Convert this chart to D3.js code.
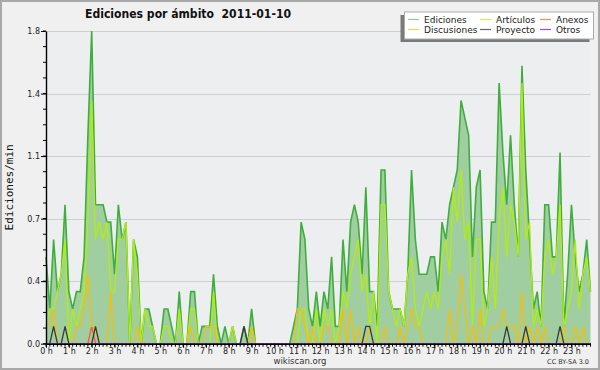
<!DOCTYPE html>
<html>
<head>
<meta charset="utf-8">
<script src="https://cdn.jsdelivr.net/npm/d3@7"></script>
<style>
  body { margin: 0; background: #fff; }
  svg { display: block; }
</style>
</head>
<body>
<svg id="grafico" width="600" height="370"></svg>
<script>
const titulo = "Ediciones por ámbito  2011-01-10";
const horas = ["0 h", "1 h", "2 h", "3 h", "4 h", "5 h", "6 h", "7 h", "8 h", "9 h", "10 h", "11 h",
  "12 h", "13 h", "14 h", "15 h", "16 h", "17 h", "18 h", "19 h", "20 h", "21 h", "22 h", "23 h"];
const ticksY = [0, 0.36, 0.72, 1.08, 1.44, 1.8];

// ediciones/min por tramo de 10 minutos (144 tramos), una fila = 2 horas
const ediciones = [
  0.5, 0.2, 0.6, 0.3, 0.4, 0.8, 0.3, 0.2, 0.3, 0.3, 0.5, 1.2,
  1.8, 0.8, 0.8, 0.8, 0.7, 0.7, 0.4, 0.8, 0.6, 0.7, 0, 0.6,
  0.5, 0, 0.2, 0.2, 0.1, 0, 0, 0.2, 0.2, 0.1, 0, 0.3,
  0, 0, 0.3, 0.3, 0, 0.1, 0.1, 0.1, 0.4, 0.1, 0, 0.1,
  0, 0.1, 0, 0, 0.1, 0, 0.2, 0, 0, 0, 0, 0,
  0, 0, 0, 0, 0, 0.1, 0.2, 0.7, 0.6, 0.2, 0.1, 0.3,
  0.1, 0.3, 0.2, 0.5, 0.1, 0.1, 0.6, 0.3, 0.7, 0.8, 0.7, 0.4,
  0.9, 0.3, 0.3, 0.1, 1.0, 1.0, 0.3, 0.2, 0.2, 0.2, 0.1, 0.4,
  1.0, 0.6, 0.4, 0.4, 0.4, 0.5, 0.5, 0.3, 0.7, 0.6, 0.8, 0.9,
  1.0, 1.4, 1.3, 1.2, 0.5, 0.9, 1.0, 0.3, 0.2, 0.7, 0.7, 1.5,
  1.1, 0.8, 1.2, 0.8, 0.5, 1.6, 1.0, 0.6, 0.2, 0.3, 0.1, 0.8,
  0.8, 0.5, 0.5, 1.1, 0.1, 0.4, 0.8, 0.5, 0.3, 0.4, 0.6, 0.3
];
const articulos = [
  0.1, 0.2, 0.2, 0.3, 0.4, 0.6, 0, 0.2, 0.1, 0.2, 0.3, 0.7,
  1.4, 0.6, 0.7, 0.6, 0.7, 0.3, 0.3, 0.6, 0.6, 0.7, 0, 0.6,
  0.4, 0, 0.2, 0.1, 0.1, 0, 0, 0.1, 0.1, 0, 0, 0.2,
  0, 0, 0.2, 0.2, 0, 0, 0, 0, 0.3, 0, 0, 0,
  0, 0.1, 0, 0, 0, 0, 0.1, 0, 0, 0, 0, 0,
  0, 0, 0, 0, 0, 0, 0, 0.2, 0.2, 0, 0, 0.2,
  0, 0.2, 0.1, 0.2, 0, 0.1, 0.3, 0.2, 0.4, 0.5, 0.6, 0.3,
  0.4, 0.1, 0.3, 0, 0.8, 0.8, 0.3, 0.2, 0.1, 0.2, 0.1, 0.4,
  0.5, 0.2, 0.1, 0.2, 0.3, 0.2, 0.3, 0.2, 0.5, 0.6, 0.4, 0.9,
  0.7, 1.0, 0.6, 0.7, 0.1, 0.6, 0.6, 0.1, 0.2, 0.5, 0.2, 0.7,
  0.9, 0.5, 0.8, 0.7, 0.5, 1.5, 0.6, 0.7, 0.1, 0.2, 0.1, 0.5,
  0.6, 0.4, 0.5, 0.8, 0.1, 0.2, 0.3, 0.6, 0.2, 0.4, 0.5, 0.3
];
const discusiones = [
  0.1, 0.1, 0.2, 0, 0, 0, 0, 0, 0.1, 0.1, 0.2, 0.4,
  0.1, 0.1, 0, 0, 0, 0.3, 0, 0, 0, 0, 0, 0,
  0.1, 0, 0, 0, 0, 0, 0, 0, 0, 0, 0, 0,
  0, 0, 0.1, 0, 0, 0, 0.1, 0.1, 0.1, 0, 0, 0,
  0, 0, 0, 0, 0, 0, 0.1, 0, 0, 0, 0, 0,
  0, 0, 0, 0, 0, 0, 0.2, 0.2, 0.1, 0, 0.1, 0,
  0, 0.1, 0.1, 0, 0, 0, 0.2, 0, 0.2, 0, 0.1, 0,
  0, 0.1, 0, 0, 0, 0.1, 0, 0, 0, 0.1, 0, 0.1,
  0.2, 0.1, 0.1, 0, 0, 0, 0, 0, 0, 0, 0.2, 0,
  0.1, 0.4, 0.2, 0, 0.1, 0, 0.2, 0, 0, 0.1, 0.1, 0.1,
  0.2, 0.1, 0.1, 0.1, 0, 0.3, 0, 0.1, 0, 0.1, 0, 0.1,
  0, 0, 0, 0, 0.1, 0, 0, 0.1, 0, 0.1, 0, 0
];
const anexos = [
  0, 0, 0, 0, 0, 0, 0, 0, 0, 0, 0, 0,
  0.1, 0, 0, 0, 0, 0, 0, 0, 0, 0, 0, 0,
  0, 0, 0, 0, 0, 0, 0, 0, 0, 0, 0, 0,
  0, 0, 0, 0, 0, 0, 0, 0, 0, 0, 0, 0,
  0, 0, 0, 0, 0, 0, 0, 0, 0, 0, 0, 0,
  0, 0, 0, 0, 0, 0, 0, 0, 0, 0, 0, 0,
  0, 0, 0, 0, 0, 0, 0, 0, 0, 0, 0, 0,
  0, 0, 0, 0, 0, 0, 0, 0, 0, 0, 0, 0,
  0, 0, 0, 0, 0, 0, 0, 0, 0, 0, 0, 0,
  0, 0, 0, 0, 0, 0, 0, 0, 0, 0, 0, 0,
  0, 0, 0, 0, 0, 0, 0, 0, 0, 0, 0, 0,
  0, 0, 0, 0, 0, 0, 0, 0, 0, 0, 0, 0
];
const proyecto = [
  0, 0, 0.1, 0, 0, 0.1, 0, 0, 0, 0, 0, 0,
  0, 0.1, 0, 0, 0, 0, 0, 0, 0, 0, 0, 0,
  0, 0, 0, 0, 0, 0, 0, 0, 0, 0, 0, 0,
  0, 0, 0, 0, 0, 0, 0, 0, 0, 0, 0, 0,
  0, 0, 0, 0, 0.1, 0, 0, 0, 0, 0, 0, 0,
  0, 0, 0, 0, 0, 0, 0, 0, 0, 0, 0, 0,
  0, 0, 0, 0, 0, 0, 0, 0, 0, 0, 0, 0,
  0.1, 0.1, 0, 0, 0, 0, 0, 0, 0, 0, 0, 0,
  0, 0, 0, 0, 0, 0, 0, 0, 0, 0, 0, 0,
  0, 0, 0, 0, 0, 0, 0, 0, 0, 0, 0, 0,
  0, 0.1, 0, 0, 0, 0, 0.1, 0, 0, 0, 0, 0,
  0, 0, 0, 0.1, 0, 0, 0, 0, 0, 0, 0, 0
];
const otros = new Array(144).fill(0); // sin ediciones en todo el día

const series = [
  { nombre: "Ediciones", datos: ediciones, color: "#3fae3f", leyenda: "#8fd08f" },
  { nombre: "Artículos", datos: articulos, color: "#b2ee0c", leyenda: "#cdef5a" },
  { nombre: "Anexos", datos: anexos, color: "#ff5a26", leyenda: "#ff8a5c" },
  { nombre: "Discusiones", datos: discusiones, color: "#f2c00a", leyenda: "#fcd24a" },
  { nombre: "Proyecto", datos: proyecto, color: "#383838", leyenda: "#666" },
  { nombre: "Otros", datos: otros, color: "#9a3cf0", leyenda: "#9a4cf0" }
];
// orden de la leyenda (3 columnas, 2 filas)
const ordenLeyenda = ["Ediciones", "Artículos", "Anexos", "Discusiones", "Proyecto", "Otros"];

const svg = d3.select("#grafico");
const x = d3.scaleLinear().domain([0, 143]).range([46, 590.5]);
const y = d3.scaleLinear().domain([0, 1.8]).range([343.7, 31]);

// --- FONDO ---
svg.append("rect")
  .attr("x", 1).attr("y", 1).attr("width", 598).attr("height", 368)
  .attr("fill", "#f0f0f0").attr("stroke", "#a8a8a8").attr("stroke-width", 2);
svg.append("rect")
  .attr("x", x(0)).attr("y", y(1.8)).attr("width", x(143) - x(0)).attr("height", y(0) - y(1.8))
  .attr("fill", "#edeef0");

// rejilla
svg.append("g").selectAll("line")
  .data(ticksY.filter(d => d > 0))
  .enter().append("line")
  .attr("x1", x(0)).attr("x2", x(143))
  .attr("y1", d => Math.round(y(d)) + 0.5).attr("y2", d => Math.round(y(d)) + 0.5)
  .attr("stroke", "#cfcfcf");

// --- SERIES ---
const area = d3.area().x((d, i) => x(i)).y0(y(0)).y1(d => y(d));
const linea = d3.line().x((d, i) => x(i)).y(d => y(d));

svg.append("path")
  .datum(ediciones)
  .attr("d", area)
  .attr("fill", "#a0cea0");

series.forEach(s => {
  svg.append("path")
    .datum(s.datos)
    .attr("d", linea)
    .attr("fill", "none")
    .attr("stroke", s.color)
    .attr("stroke-width", s.nombre === "Ediciones" ? 1.6 : 1.3)
    .attr("stroke-linejoin", "miter");
});

// --- EJES ---
const ejeY = svg.append("g")
  .attr("transform", `translate(${x(0)},0)`)
  .call(d3.axisLeft(y).tickValues(ticksY).tickFormat(d3.format(".1f")).tickSize(5).tickSizeOuter(0).tickPadding(1));
ejeY.append("g").selectAll("line")
  .data(d3.range(0, 21).map(k => k * 0.09))
  .enter().append("line")
  .attr("x1", -3).attr("x2", 0)
  .attr("y1", d => y(d)).attr("y2", d => y(d))
  .attr("stroke", "#000");

const ejeX = svg.append("g")
  .attr("transform", `translate(0,${y(0)})`)
  .call(d3.axisBottom(x).tickValues(d3.range(0, 144, 6)).tickFormat((d, i) => horas[i]).tickSize(4).tickSizeOuter(0).tickPadding(1));
ejeX.append("g").selectAll("line")
  .data(d3.range(144))
  .enter().append("line")
  .attr("x1", d => x(d)).attr("x2", d => x(d))
  .attr("y1", 0).attr("y2", 3)
  .attr("stroke", "#000");

[ejeY, ejeX].forEach(g => {
  g.attr("font-family", "DejaVu Sans").attr("font-size", 8);
  g.selectAll("text").attr("fill", "#222");
  g.select(".domain").attr("stroke", "#000").attr("stroke-width", 1.4);
});

svg.append("text")
  .attr("transform", `translate(13,${(y(0) + y(1.8)) / 2}) rotate(-90)`)
  .attr("text-anchor", "middle")
  .attr("font-family", "DejaVu Sans Mono")
  .attr("font-size", 11)
  .attr("fill", "#111")
  .text("Ediciones/min");

// --- TITULO ---
svg.append("text")
  .attr("x", 85).attr("y", 18)
  .attr("font-family", "DejaVu Sans")
  .attr("font-weight", "bold")
  .attr("font-size", 12)
  .attr("textLength", 206)
  .attr("lengthAdjust", "spacingAndGlyphs")
  .attr("fill", "#111")
  .style("white-space", "pre")
  .text(titulo);

// --- LEYENDA ---
const ley = svg.append("g");
ley.append("rect")
  .attr("x", 400.5).attr("y", 15).attr("width", 189).attr("height", 27)
  .attr("fill", "#7a7a7a");
ley.append("rect")
  .attr("x", 404.5).attr("y", 12).attr("width", 189).attr("height", 27)
  .attr("fill", "#fff").attr("stroke", "#aaa");
const colX = [408, 480, 540];
const filaY = [19.5, 29.5];
ordenLeyenda.forEach((nombre, k) => {
  const s = series.find(o => o.nombre === nombre);
  const cx = colX[k % 3], cy = filaY[Math.floor(k / 3)];
  ley.append("line")
    .attr("x1", cx).attr("x2", cx + 11)
    .attr("y1", cy).attr("y2", cy)
    .attr("stroke", s.leyenda).attr("stroke-width", 1.2);
  ley.append("text")
    .attr("x", cx + 16).attr("y", cy + 3)
    .attr("font-family", "DejaVu Sans")
    .attr("font-size", 9)
    .attr("fill", "#222")
    .text(nombre);
});

// --- PIE ---
svg.append("text")
  .attr("x", 300).attr("y", 364)
  .attr("text-anchor", "middle")
  .attr("font-family", "DejaVu Sans")
  .attr("font-size", 8.5)
  .attr("fill", "#333")
  .text("wikiscan.org");
svg.append("text")
  .attr("x", 589).attr("y", 364)
  .attr("text-anchor", "end")
  .attr("font-family", "DejaVu Sans")
  .attr("font-size", 6.5)
  .attr("fill", "#333")
  .text("CC BY-SA 3.0");
</script>
</body>
</html>
